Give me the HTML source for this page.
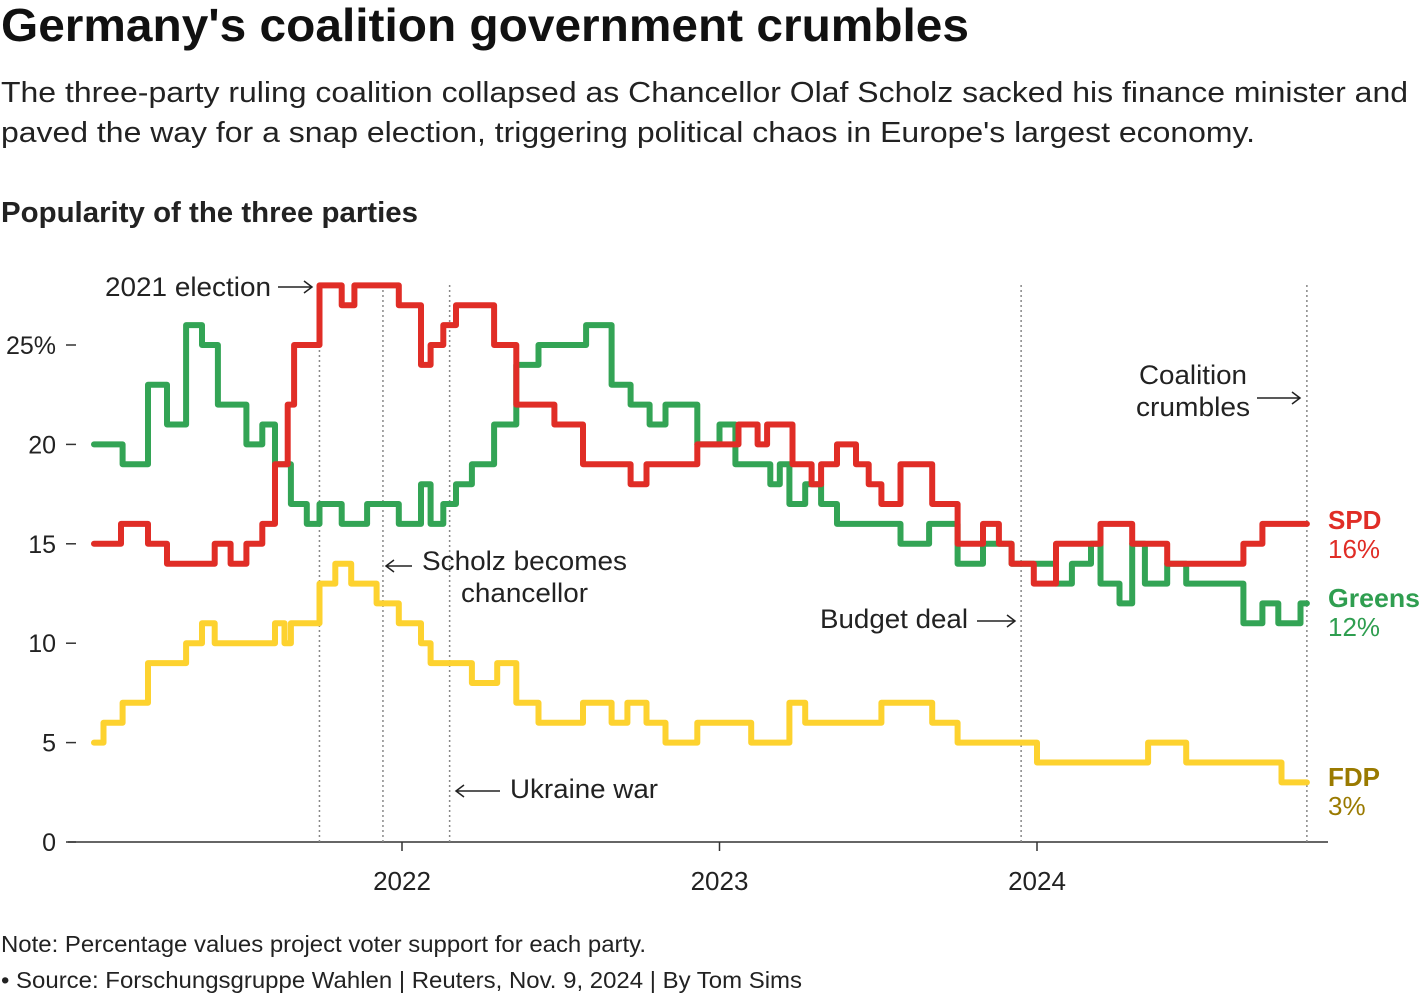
<!DOCTYPE html>
<html><head><meta charset="utf-8"><style>
body{margin:0;background:#fff;}
svg{display:block;font-family:"Liberation Sans",Arial,sans-serif;}
</style></head><body>
<svg id="chart" width="1420" height="998" viewBox="0 0 1420 998">
<text x="1" y="41" font-size="46" font-weight="bold" fill="#111" textLength="968" lengthAdjust="spacingAndGlyphs">Germany's coalition government crumbles</text>
<text x="1" y="102" font-size="29" fill="#222" textLength="1407" lengthAdjust="spacingAndGlyphs">The three-party ruling coalition collapsed as Chancellor Olaf Scholz sacked his finance minister and</text>
<text x="1" y="142" font-size="29" fill="#222" textLength="1254" lengthAdjust="spacingAndGlyphs">paved the way for a snap election, triggering political chaos in Europe's largest economy.</text>
<text x="1" y="222" font-size="29" font-weight="bold" fill="#222" textLength="417" lengthAdjust="spacingAndGlyphs">Popularity of the three parties</text>
<g id="axes"></g>
<g id="events"></g>
<g id="lines"></g>
<g font-size="27" fill="#222" stroke-width="1.5">
<text x="105" y="296" textLength="166" lengthAdjust="spacingAndGlyphs">2021 election</text>
<path d="M278 287 H312 M304 281 L312 287 L304 293" stroke="#222" fill="none"/>
<path d="M386 566 H412 M394 560 L386 566 L394 572" stroke="#222" fill="none"/>
<text x="422" y="570" textLength="205" lengthAdjust="spacingAndGlyphs">Scholz becomes</text>
<text x="461" y="602" textLength="127" lengthAdjust="spacingAndGlyphs">chancellor</text>
<path d="M456 791 H500 M464 785 L456 791 L464 797" stroke="#222" fill="none"/>
<text x="510" y="798" textLength="148" lengthAdjust="spacingAndGlyphs">Ukraine war</text>
<text x="820" y="628" textLength="148" lengthAdjust="spacingAndGlyphs">Budget deal</text>
<path d="M977 621 H1015 M1007 615 L1015 621 L1007 627" stroke="#222" fill="none"/>
<text x="1139" y="384" textLength="108" lengthAdjust="spacingAndGlyphs">Coalition</text>
<text x="1136" y="416" textLength="114" lengthAdjust="spacingAndGlyphs">crumbles</text>
<path d="M1257 398 H1300 M1292 392 L1300 398 L1292 404" stroke="#222" fill="none"/>
</g>
<g font-size="26">
<text x="1328" y="529" font-weight="bold" fill="#e02d26">SPD</text>
<text x="1328" y="558" fill="#e02d26">16%</text>
<text x="1328" y="607" font-weight="bold" fill="#2f9e50" textLength="92" lengthAdjust="spacingAndGlyphs">Greens</text>
<text x="1328" y="636" fill="#2f9e50">12%</text>
<text x="1328" y="786" font-weight="bold" fill="#9a7a00">FDP</text>
<text x="1328" y="815" fill="#9a7a00">3%</text>
</g>
<text x="1" y="952" font-size="23" fill="#222" textLength="645" lengthAdjust="spacingAndGlyphs">Note: Percentage values project voter support for each party.</text>
<text x="1" y="988" font-size="23" fill="#222" textLength="801" lengthAdjust="spacingAndGlyphs">• Source: Forschungsgruppe Wahlen | Reuters, Nov. 9, 2024 | By Tom Sims</text>
</svg>
<script>
const endDate = 2024.85;
const yTicks = [0, 5, 10, 15, 20, 25];
const yTickLabels = ["0", "5", "10", "15", "20", "25%"];
const xTicks = [2022, 2023, 2024];
const xTickLabels = ["2022", "2023", "2024"];
const eventDates = [2021.74, 2021.94, 2022.15, 2023.95, 2024.85];
const spdDates = [2021.03,2021.115,2021.20,2021.26,2021.41,2021.46,2021.51,2021.56,2021.60,2021.64,2021.66,2021.74,2021.81,2021.85,2021.99,2022.06,2022.09,2022.13,2022.17,2022.29,2022.36,2022.48,2022.57,2022.72,2022.77,2022.93,2023.06,2023.12,2023.15,2023.23,2023.29,2023.32,2023.37,2023.43,2023.47,2023.51,2023.57,2023.67,2023.75,2023.83,2023.88,2023.92,2023.99,2024.06,2024.20,2024.30,2024.41,2024.65,2024.71];
const spdValues = [15,16,15,14,15,14,15,16,19,22,25,28,27,28,27,24,25,26,27,25,22,21,19,18,19,20,21,20,21,19,18,19,20,19,18,17,19,17,15,16,15,14,13,15,16,15,14,15,16];
const greensDates = [2021.03,2021.12,2021.20,2021.26,2021.32,2021.37,2021.42,2021.51,2021.56,2021.60,2021.65,2021.70,2021.74,2021.81,2021.89,2021.99,2022.06,2022.09,2022.13,2022.17,2022.22,2022.29,2022.36,2022.43,2022.58,2022.66,2022.72,2022.78,2022.83,2022.93,2023.00,2023.05,2023.16,2023.19,2023.22,2023.27,2023.32,2023.37,2023.57,2023.66,2023.75,2023.83,2023.92,2024.06,2024.11,2024.17,2024.20,2024.26,2024.30,2024.34,2024.41,2024.47,2024.65,2024.71,2024.76,2024.83];
const greensValues = [20,19,23,21,26,25,22,20,21,19,17,16,17,16,17,16,18,16,17,18,19,21,24,25,26,23,22,21,22,20,21,19,18,19,17,18,17,16,15,16,14,15,14,13,14,15,13,12,15,13,14,13,11,12,11,12];
const fdpDates = [2021.03,2021.06,2021.12,2021.20,2021.32,2021.37,2021.41,2021.60,2021.63,2021.65,2021.74,2021.79,2021.84,2021.92,2021.99,2022.06,2022.09,2022.22,2022.30,2022.36,2022.43,2022.57,2022.66,2022.71,2022.77,2022.83,2022.93,2023.10,2023.22,2023.27,2023.51,2023.67,2023.75,2024.00,2024.35,2024.47,2024.77];
const fdpValues = [5,6,7,9,10,11,10,11,10,11,13,14,13,12,11,10,9,8,9,7,6,7,6,7,6,5,6,5,7,6,7,6,5,4,5,4,3];

const NS = "http://www.w3.org/2000/svg";
const xS = t => 402 + (t - 2022) * 317.5;
const yS = v => 842 - v * 19.88;
function mk(tag, attrs, parent) {
  const e = document.createElementNS(NS, tag);
  for (const k in attrs) e.setAttribute(k, attrs[k]);
  parent.appendChild(e);
  return e;
}
const axes = document.getElementById('axes');
const base = mk('line', {x1: 68, x2: 1328, y1: yS(0), y2: yS(0), stroke: '#333', 'stroke-width': 1.5}, axes);


yTicks.forEach((v, i) => {
  const t = mk('line', {x1: 66, x2: 76, y1: yS(v), y2: yS(v), stroke: '#333', 'stroke-width': 1.5}, axes);
  
  
  const l = mk('text', {x: 56, y: yS(v) + 9, 'text-anchor': 'end', 'font-size': 25, fill: '#222'}, axes);
  l.textContent = yTickLabels[i];
  
  
});
xTicks.forEach((t, i) => {
  const tk = mk('line', {x1: xS(t), x2: xS(t), y1: 842, y2: 851, stroke: '#333', 'stroke-width': 1.5}, axes);
  
  
  const l = mk('text', {x: xS(t), y: 890, 'text-anchor': 'middle', 'font-size': 26, fill: '#222'}, axes);
  l.textContent = xTickLabels[i];
  
  
});
const ev = document.getElementById('events');
eventDates.forEach(d => {
  const l = mk('line', {x1: xS(d), x2: xS(d), y1: 285, y2: 842, stroke: '#888', 'stroke-width': 1.5, 'stroke-dasharray': '2,3'}, ev);
  
  
});
const lines = document.getElementById('lines');
function stepPath(dates, vals) {
  let d = '';
  dates.forEach((t, i) => {
    const x = xS(t), y = yS(vals[i]);
    if (i === 0) d = 'M' + x.toFixed(1) + ' ' + y.toFixed(1) + ' ';
    else d += 'V' + y.toFixed(1) + ' ';
    const next = i + 1 < dates.length ? dates[i + 1] : endDate;
    d += 'H' + xS(next).toFixed(1) + ' ';
  });
  return d;
}
[[fdpDates, fdpValues, '#fdd22f', 'fdp-line'], [greensDates, greensValues, '#33a455', 'greens-line'], [spdDates, spdValues, '#e02d26', 'spd-line']].forEach(s => {
  const p = mk('path', {d: stepPath(s[0], s[1]), fill: 'none', stroke: s[2], 'stroke-width': 6, 'stroke-linejoin': 'round', 'stroke-linecap': 'round'}, lines);
  
  
});
</script>
</body></html>
